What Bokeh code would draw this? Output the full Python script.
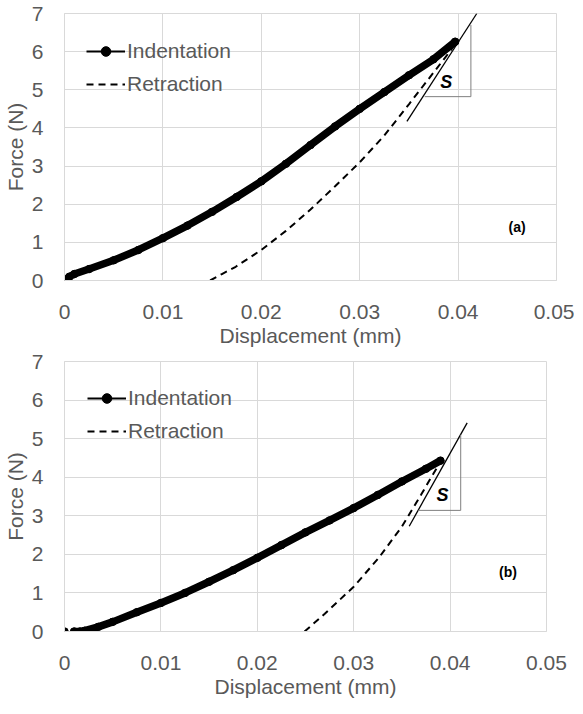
import math
from bokeh.plotting import figure
from bokeh.layouts import column
from bokeh.models import FixedTicker, Legend, LegendItem, Range1d
from bokeh.core.properties import value
from bokeh.embed import file_html
from bokeh.resources import INLINE

# ---------------- data ----------------
x_ticks = [0, 0.01, 0.02, 0.03, 0.04, 0.05]
x_tick_labels = ["0", "0.01", "0.02", "0.03", "0.04", "0.05"]
y_ticks = [0, 1, 2, 3, 4, 5, 6, 7]
y_tick_labels = ["0", "1", "2", "3", "4", "5", "6", "7"]
x_title = "Displacement (mm)"
y_title = "Force (N)"
legend_labels = ["Indentation", "Retraction"]

# Panel (a)
ind_a_x = [0, 0.0005, 0.001, 0.0025, 0.005, 0.0075, 0.01, 0.0125, 0.015, 0.0175,
           0.02, 0.0225, 0.025, 0.0275, 0.03, 0.0325, 0.035, 0.0375, 0.0397]
ind_a_y = [0, 0.10, 0.17, 0.30, 0.53, 0.80, 1.11, 1.44, 1.80, 2.19,
           2.60, 3.06, 3.55, 4.04, 4.50, 4.94, 5.38, 5.80, 6.26]
ret_a_x = [0.0148, 0.016, 0.0174, 0.02, 0.0225, 0.025, 0.0275, 0.03, 0.0325,
           0.035, 0.0375, 0.0393, 0.0397]
ret_a_y = [0, 0.17, 0.36, 0.80, 1.30, 1.86, 2.47, 3.10, 3.80,
           4.62, 5.45, 6.05, 6.22]
tan_a_x = [0.0348, 0.0419]
tan_a_y = [4.17, 7.0]
brk_a_x = [0.0366, 0.0413, 0.0413]
brk_a_y = [4.82, 4.82, 6.70]
s_a = (0.0388, 5.2)
tag_a = (0.046, 1.39, "(a)")

# Panel (b)
ind_b_x = [0, 0.001, 0.0016, 0.0021, 0.0035, 0.005, 0.0075, 0.01, 0.0125, 0.015,
           0.0175, 0.02, 0.0225, 0.025, 0.0275, 0.03, 0.0325, 0.035, 0.0375, 0.039]
ind_b_y = [0, 0, 0, 0.02, 0.12, 0.25, 0.50, 0.74, 1.00, 1.29,
           1.59, 1.91, 2.24, 2.57, 2.88, 3.20, 3.54, 3.89, 4.22, 4.43]
ret_b_x = [0.0249, 0.027, 0.03, 0.0326, 0.035, 0.037, 0.038, 0.039]
ret_b_y = [0, 0.46, 1.16, 1.91, 2.72, 3.55, 3.98, 4.40]
tan_b_x = [0.03576, 0.04177]
tan_b_y = [2.73, 5.41]
brk_b_x = [0.0367, 0.0411, 0.0411]
brk_b_y = [3.14, 3.14, 5.10]
s_b = (0.0392, 3.53)
tag_b = (0.046, 1.53, "(b)")

FONT = "Liberation Sans"
TXT = "#595959"
GRID = "#d9d9d9"
NAN = [math.nan]


def make_panel(ind_x, ind_y, ret_x, ret_y, tan_x, tan_y, brk_x, brk_y, s_pos, tag,
               frame_w, frame_h, b_left, b_right, b_top, b_bottom, y_standoff,
               leg_x, leg_top, line_from):
    p = figure(frame_width=frame_w, frame_height=frame_h,
               output_backend="svg", toolbar_location=None,
               x_range=Range1d(0, 0.05), y_range=Range1d(0, 7),
               min_border_left=b_left, min_border_right=b_right,
               min_border_top=b_top, min_border_bottom=b_bottom,
               background_fill_color="white", border_fill_color="white")
    p.outline_line_color = GRID
    for ax, ticks, labels, title in ((p.xaxis[0], x_ticks, x_tick_labels, x_title),
                                     (p.yaxis[0], y_ticks, y_tick_labels, y_title)):
        ax.ticker = FixedTicker(ticks=ticks, minor_ticks=[])
        ax.major_label_overrides = {t: l for t, l in zip(ticks, labels)}
        ax.axis_label = title
        ax.axis_label_text_font = FONT
        ax.axis_label_text_font_size = "21px"
        ax.axis_label_text_font_style = "normal"
        ax.axis_label_text_color = TXT
        ax.major_label_text_font = FONT
        ax.major_label_text_font_size = "21px"
        ax.major_label_text_color = TXT
        ax.major_tick_line_color = None
        ax.minor_tick_line_color = None
        ax.axis_line_color = GRID
    p.xaxis.major_label_standoff = 18
    p.xaxis.axis_label_standoff = 2
    p.yaxis.major_label_standoff = y_standoff
    p.yaxis.axis_label_standoff = 2
    p.grid.grid_line_color = GRID
    p.grid.grid_line_width = 1

    # retraction (dashed)
    r_ret = p.line(ret_x, ret_y, line_color="black", line_width=2, line_dash="7 5")
    # indentation (dense markers -> thick line)
    p.line(ind_x[line_from:], ind_y[line_from:], line_color="black", line_width=7.5,
           line_cap="round", line_join="round")
    p.scatter(ind_x, ind_y, size=7.5, marker="circle", fill_color="black", line_color="black")
    # tangent & stiffness bracket
    p.line(tan_x, tan_y, line_color="black", line_width=1.3)
    p.line(brk_x, brk_y, line_color="#7f7f7f", line_width=1)
    p.text(x=[s_pos[0]], y=[s_pos[1]], text=["S"], text_font=value(FONT),
           text_font_size="18px", text_font_style="bold italic", text_color="black",
           text_align="center", text_baseline="middle")
    p.text(x=[tag[0]], y=[tag[1]], text=[tag[2]], text_font=value(FONT),
           text_font_size="14px", text_font_style="bold", text_color="black",
           text_align="center", text_baseline="middle")

    # legend-only renderers for the "line + marker" key
    lg_line = p.line(NAN, NAN, line_color="black", line_width=2)
    lg_dot = p.scatter(NAN, NAN, size=8, marker="circle", fill_color="black", line_color="black")
    legend = Legend(items=[LegendItem(label=legend_labels[0], renderers=[lg_line, lg_dot]),
                           LegendItem(label=legend_labels[1], renderers=[r_ret])],
                    location=(leg_x, frame_h - leg_top - 67),
                    glyph_width=39, glyph_height=24, label_height=24, label_standoff=2,
                    spacing=9, padding=0, margin=0,
                    label_text_font=FONT, label_text_font_size="21px",
                    label_text_color=TXT, border_line_color=None,
                    background_fill_alpha=0)
    p.add_layout(legend, "center")
    return p


pa = make_panel(ind_a_x, ind_a_y, ret_a_x, ret_a_y, tan_a_x, tan_a_y, brk_a_x, brk_a_y,
                s_a, tag_a, frame_w=492, frame_h=267, b_left=57, b_right=18, b_top=13,
                b_bottom=68, y_standoff=15, leg_x=22, leg_top=16, line_from=0)
pb = make_panel(ind_b_x, ind_b_y, ret_b_x, ret_b_y, tan_b_x, tan_b_y, brk_b_x, brk_b_y,
                s_b, tag_b, frame_w=482, frame_h=270, b_left=57, b_right=28, b_top=12,
                b_bottom=68, y_standoff=15, leg_x=23, leg_top=15, line_from=1)

layout = column(pa, pb, spacing=0)
open("out.html", "w").write(file_html(layout, INLINE))
